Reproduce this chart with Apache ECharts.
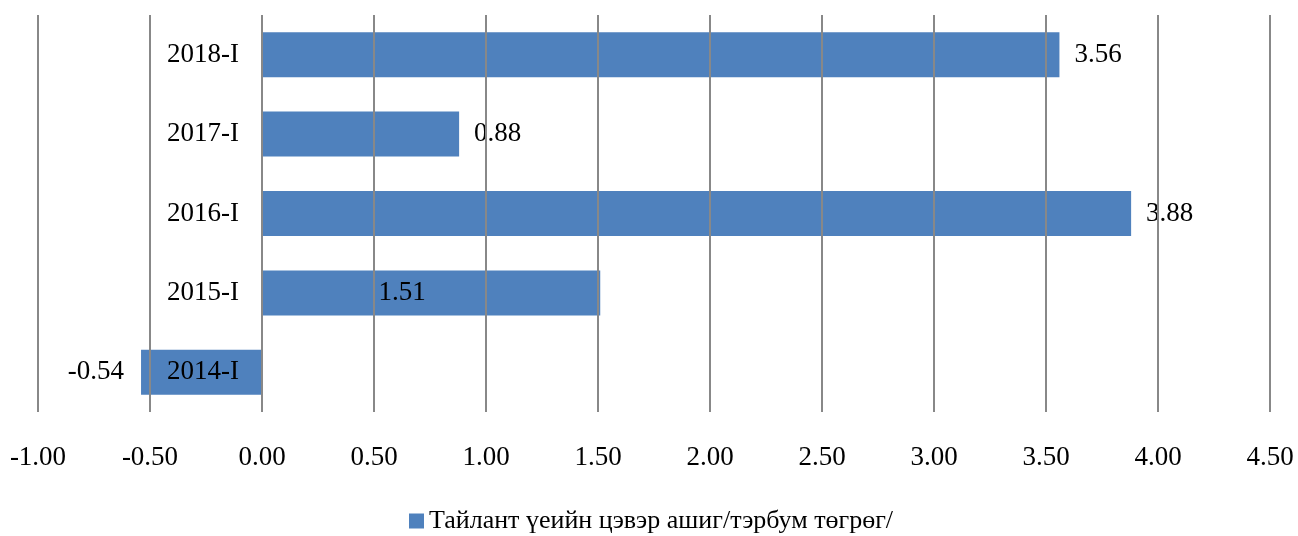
<!DOCTYPE html>
<html>
<head>
<meta charset="utf-8">
<script src="https://cdn.jsdelivr.net/npm/echarts@6/dist/echarts.min.js"></script>
<style>
  html, body { margin: 0; padding: 0; background: #fff; }
  #chart { width: 1298px; height: 536px; }
</style>
</head>
<body>
<div id="chart"></div>
<script>
// ангилал (доороос дээш)
var periods = ["2014-I", "2015-I", "2016-I", "2017-I", "2018-I"];
var profit = [-0.54, 1.51, 3.88, 0.88, 3.56];
var seriesName = "Тайлант үеийн цэвэр ашиг/тэрбум төгрөг/";

var serif = "'Liberation Serif', 'Times New Roman', serif";

var chartDom = document.getElementById("chart");
var myChart = echarts.init(chartDom);

var data = profit.map(function (v, i) {
    var item = { value: v };
    if (v < 0) {
        item.label = { position: "left", distance: 17 };
    } else if (periods[i] === "2015-I") {
        item.label = { position: "inside", offset: [-29, 0] };
    }
    return item;
});

var option = {
    animation: false,
    textStyle: { fontFamily: serif },
    grid: { left: 38, right: 28, top: 15, bottom: 124, containLabel: false, outerBoundsMode: "none" },
    legend: {
        top: 503,
        left: 404,
        icon: "rect",
        itemWidth: 15,
        itemHeight: 15,
        itemGap: 6,
        textStyle: { fontFamily: serif, fontSize: 26, color: "#000" },
        data: [seriesName]
    },
    xAxis: {
        type: "value",
        min: -1,
        max: 4.5,
        interval: 0.5,
        z: 5,
        axisLine: { show: false },
        axisTick: { show: false },
        axisLabel: {
            margin: 32,
            fontSize: 27,
            color: "#000",
            fontFamily: serif,
            formatter: function (v) { return v.toFixed(2); }
        },
        splitLine: { lineStyle: { color: "#888", width: 2 } }
    },
    yAxis: {
        type: "category",
        data: periods,
        z: 6,
        // тэнхлэгийг 0 дээр байрлуулах (-1 -> 0 = 224px)
        offset: -224,
        axisLine: { show: false, onZero: false },
        axisTick: { show: false },
        axisLabel: { margin: 23, fontSize: 27, color: "#000", fontFamily: serif }
    },
    series: [{
        name: seriesName,
        type: "bar",
        barWidth: 45,
        itemStyle: { color: "#4F81BD" },
        label: {
            show: true,
            position: "right",
            distance: 15,
            fontSize: 27,
            color: "#000",
            fontFamily: serif,
            formatter: function (p) { return p.value.toFixed(2); }
        },
        data: data
    }]
};
myChart.setOption(option);
</script>
</body>
</html>
